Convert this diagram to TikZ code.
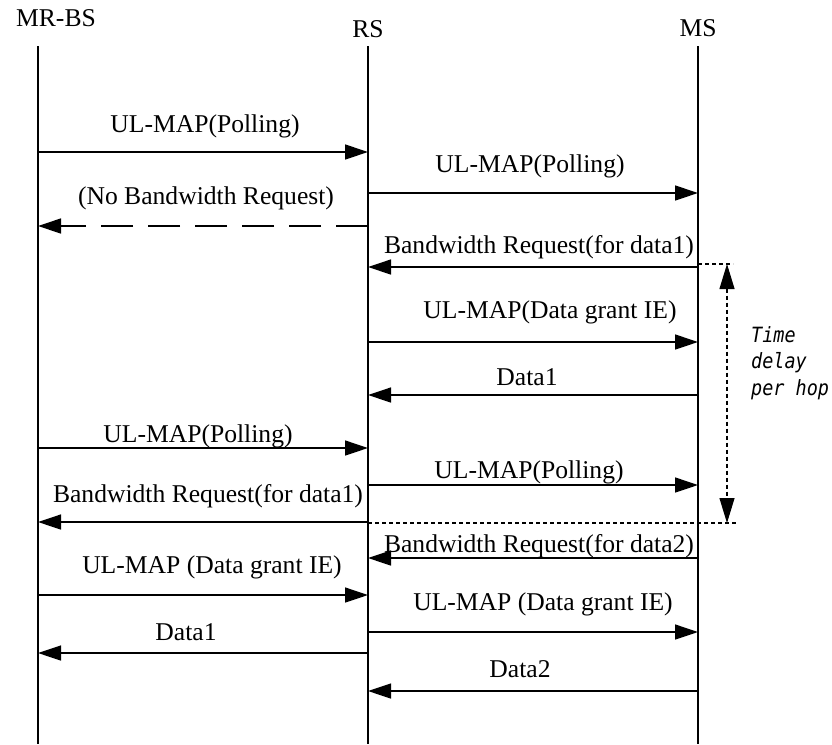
\documentclass[tikz,border=0pt]{standalone}
\usepackage{fontspec}
\setmainfont{Liberation Serif}
\newfontfamily\delayfont[FakeStretch=0.88]{DejaVu Sans Mono}
\usetikzlibrary{arrows.meta}

\tikzset{
  lifeline/.style={line width=1.5pt},
  msg/.style={line width=1.3pt, -{Triangle[length=23pt,width=15pt]}},
  nobw/.style={msg, dash pattern=on 32pt off 15pt},
  lbl/.style={font=\fontsize{25.6}{31}\selectfont, anchor=base, inner sep=0pt},
  hop/.style={line width=1.1pt, dash pattern=on 4pt off 3pt},
  delay/.style={font=\delayfont\itshape\fontsize{21}{26.5}\selectfont, align=left, inner sep=0pt},
}

\begin{document}
\begin{tikzpicture}[x=1pt,y=-1pt]
    \useasboundingbox (0,0) rectangle (832,744);

    % lifelines
    \coordinate (BS) at (38,46);
    \coordinate (RS) at (368,46);
    \coordinate (MS) at (698,46);
    \coordinate (BSe) at (38,744);
    \coordinate (RSe) at (368,744);
    \coordinate (MSe) at (698,744);
    \node[lbl] (BSname) at (56,27) {MR-BS};
    \node[lbl] (RSname) at (368,37) {RS};
    \node[lbl] (MSname) at (698,36) {MS};
    \draw[lifeline] (BS) -- (BSe);
    \draw[lifeline] (RS) -- (RSe);
    \draw[lifeline] (MS) -- (MSe);

    % first polling round
    \draw[msg] (BS |- 0,152) -- (RS |- 0,152);
    \node[lbl] (m1) at (205,132) {UL-MAP(Polling)};
    \draw[msg] (RS |- 0,193) -- (MS |- 0,193);
    \node[lbl] (m2) at (530,172) {UL-MAP(Polling)};
    \draw[nobw] (RS |- 0,226) -- (BS |- 0,226);
    \node[lbl] (m3) at (206,204) {(No Bandwidth Request)};
    \draw[msg] (MS |- 0,267) -- (RS |- 0,267);
    \node[lbl] (m4) at (539,253) {Bandwidth Request(for data1)};
    \draw[msg] (RS |- 0,342) -- (MS |- 0,342);
    \node[lbl] (m5) at (550,318) {UL-MAP(Data grant IE)};
    \draw[msg] (MS |- 0,395) -- (RS |- 0,395);
    \node[lbl] (m6) at (527,385) {Data1};

    % second polling round
    \draw[msg] (BS |- 0,448) -- (RS |- 0,448);
    \node[lbl] (m7) at (198,442) {UL-MAP(Polling)};
    \draw[msg] (RS |- 0,485) -- (MS |- 0,485);
    \node[lbl] (m8) at (529,478) {UL-MAP(Polling)};
    \draw[msg] (RS |- 0,522) -- (BS |- 0,522);
    \node[lbl] (m9) at (208,502) {Bandwidth Request(for data1)};
    \draw[msg] (MS |- 0,558) -- (RS |- 0,558);
    \node[lbl] (m10) at (539,552) {Bandwidth Request(for data2)};
    \draw[msg] (BS |- 0,595) -- (RS |- 0,595);
    \node[lbl] (m11) at (212,573) {UL-MAP (Data grant IE)};
    \draw[msg] (RS |- 0,632) -- (MS |- 0,632);
    \node[lbl] (m12) at (543,610) {UL-MAP (Data grant IE)};
    \draw[msg] (RS |- 0,653) -- (BS |- 0,653);
    \node[lbl] (m13) at (186,640) {Data1};
    \draw[msg] (MS |- 0,691) -- (RS |- 0,691);
    \node[lbl] (m14) at (520,677) {Data2};

    % time delay per hop
    \coordinate (hopT) at (727,264);
    \coordinate (hopB) at (727,523);
    \draw[hop] (MS |- hopT) -- ++(35,0);
    \draw[hop] (RS |- hopB) -- ++(370,0);
    \draw[hop, {Triangle[length=25pt,width=15pt]}-{Triangle[length=25pt,width=15pt]}] (hopT) -- (hopB);
    \node[delay, anchor=north west] (hoptext) at (751,326) {Time\\delay\\per hop};
\end{tikzpicture}
\end{document}
